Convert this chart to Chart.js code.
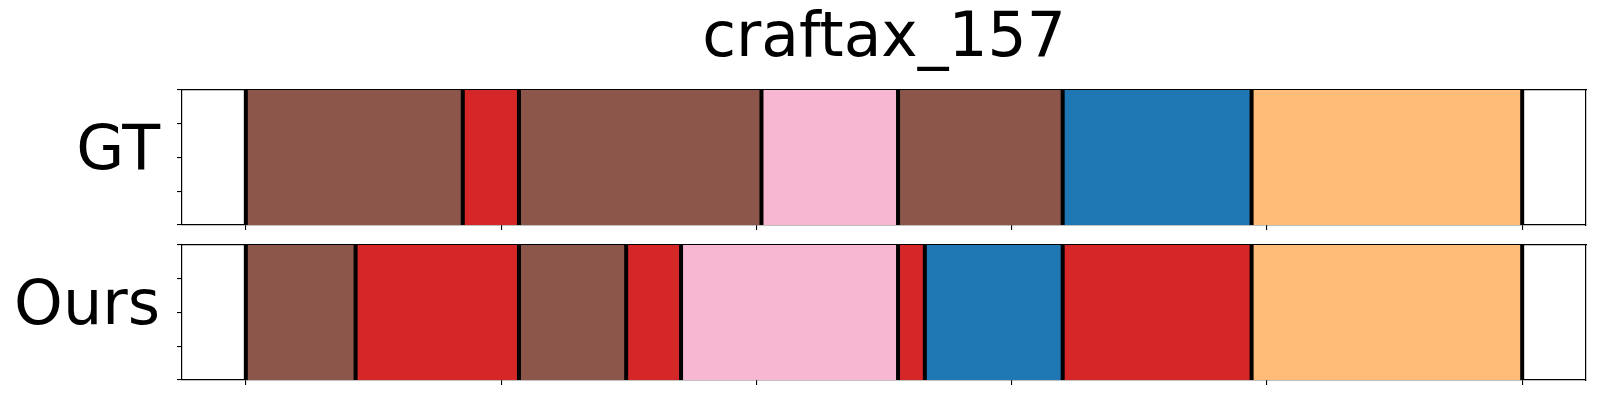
<!DOCTYPE html>
<html>
<head>
<meta charset="utf-8">
<title>craftax_157</title>
<script src="https://cdn.jsdelivr.net/npm/chart.js@4.4.1/dist/chart.umd.min.js"></script>
<style>
    html, body { margin: 0; padding: 0; background: #fff; }
    canvas { display: block; }
</style>
</head>
<body>
<canvas id="gtChart" width="1600" height="240"></canvas>
<canvas id="oursChart" width="1600" height="160"></canvas>
<script>
const chartTitle = 'craftax_157';
const rowLabels = ['GT', 'Ours'];

// segment boundaries (frame index) and the class of each segment between them
const gtBounds = [0, 85, 107, 202, 255.5, 320, 394, 500];
const gtClasses = ['brown', 'red', 'brown', 'pink', 'brown', 'blue', 'orange'];
const oursBounds = [0, 43, 107, 149, 170.5, 255.5, 266, 320, 394, 500];
const oursClasses = ['brown', 'red', 'brown', 'red', 'pink', 'red', 'blue', 'red', 'orange'];

const xTicks = [0, 100, 200, 300, 400, 500];
const yTicks = [0, 1, 2, 3, 4];
const xRange = [-25, 525];

const palette = {
    brown: '#8c564b',
    red: '#d62728',
    pink: '#f7b6d2',
    blue: '#1f77b4',
    orange: '#ffbb78',
};

const FONT = 'DejaVu Sans';
const midY = yTicks[Math.floor(yTicks.length / 2)];

function rowChart(canvasId, label, bounds, classes, layout) {
    const bars = bounds.slice(0, -1).map((b, i) => ({ x: [b, bounds[i + 1]], y: midY }));
    // black separators at every boundary
    const separators = bounds.map(b => ({
        type: 'line',
        data: [{ x: b, y: yTicks[0] }, { x: b, y: yTicks[yTicks.length - 1] }],
        borderColor: '#000',
        borderWidth: 4,
        pointRadius: 0,
        order: 0,
    }));

    const spine = { color: '#000', width: 1.2 };
    const tickGrid = { drawOnChartArea: false, color: '#000', lineWidth: 1.1, tickLength: 5, offset: false };
    const noGrid = { drawOnChartArea: false, drawTicks: false, offset: false };

    return new Chart(document.getElementById(canvasId), {
        type: 'bar',
        data: {
            datasets: [{
                indexAxis: 'y',
                data: bars,
                backgroundColor: classes.map(c => palette[c]),
                borderWidth: 0,
                barThickness: 300,
                clip: 0,
                order: 1,
            }, ...separators]
        },
        options: {
            responsive: false,
            animation: false,
            devicePixelRatio: 1,
            layout: { padding: { top: layout.padTop, right: 14, bottom: 0, left: 0 } },
            plugins: {
                legend: { display: false },
                tooltip: { enabled: false },
                title: layout.title ? {
                    display: true,
                    text: layout.title,
                    color: '#000',
                    fullSize: false,
                    font: { family: FONT, size: 61.5, weight: 'normal', lineHeight: 1 },
                    padding: { top: 9, bottom: 19.5 },
                } : { display: false },
            },
            scales: {
                x: {
                    type: 'linear', min: xRange[0], max: xRange[1], offset: false, z: 1,
                    grid: tickGrid, border: spine,
                    ticks: { display: false, autoSkip: false },
                    afterBuildTicks: s => { s.ticks = xTicks.map(v => ({ value: v })); },
                    afterFit: s => { s.height = layout.xAxisHeight; },
                },
                x2: {
                    type: 'linear', position: 'top', min: xRange[0], max: xRange[1], offset: false, z: 1,
                    grid: noGrid, border: spine,
                    ticks: { display: false },
                    afterFit: s => { s.height = 0; },
                },
                y: {
                    type: 'linear', min: yTicks[0], max: yTicks[yTicks.length - 1], offset: false, z: 1,
                    grid: tickGrid, border: spine,
                    ticks: {
                        color: '#000',
                        font: { family: FONT, size: 62 },
                        padding: 17,
                        labelOffset: -5,
                        autoSkip: false,
                        callback: v => (v === midY ? label : ''),
                    },
                    afterBuildTicks: s => { s.ticks = yTicks.map(v => ({ value: v })); },
                    afterFit: s => { s.width = 182; s.paddingTop = 0; s.paddingBottom = 0; },
                },
                y2: {
                    type: 'linear', position: 'right', min: yTicks[0], max: yTicks[yTicks.length - 1], offset: false, z: 1,
                    grid: noGrid, border: spine,
                    ticks: { display: false },
                    afterFit: s => { s.width = 0; s.paddingTop = 0; s.paddingBottom = 0; },
                },
            }
        }
    });
}

rowChart('gtChart', rowLabels[0], gtBounds, gtClasses, { title: chartTitle, padTop: 0, xAxisHeight: 15 });
rowChart('oursChart', rowLabels[1], oursBounds, oursClasses, { title: null, padTop: 5, xAxisHeight: 20 });
</script>
</body>
</html>
